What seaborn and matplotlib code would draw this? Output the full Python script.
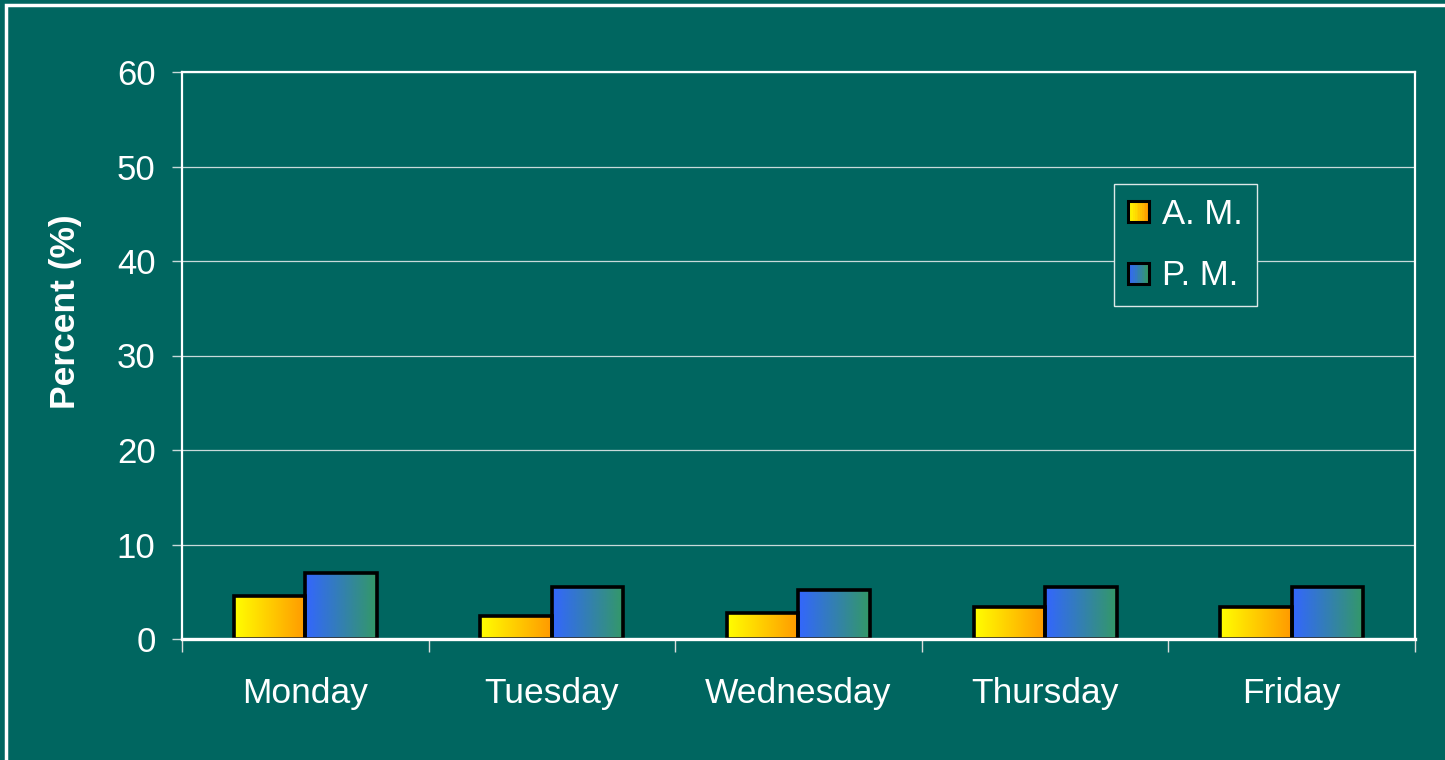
import numpy as np
import pandas as pd
import matplotlib
matplotlib.use("Agg")
import matplotlib.pyplot as plt
import seaborn as sns
from matplotlib.colors import LinearSegmentedColormap
from matplotlib.patches import Rectangle
from matplotlib.legend_handler import HandlerBase

# ---- data ----
days = ["Monday", "Tuesday", "Wednesday", "Thursday", "Friday"]
am_values = [4.5, 2.4, 2.7, 3.4, 3.4]
pm_values = [7.0, 5.5, 5.2, 5.5, 5.5]
series_names = ["A. M.", "P. M."]
y_ticks = [0, 10, 20, 30, 40, 50, 60]

BG = "#006660"
grad_colors = {
    "A. M.": ("#FFFF00", "#FF9900"),
    "P. M.": ("#3366FF", "#339966"),
}

df = pd.DataFrame({
    "day": days * 2,
    "value": am_values + pm_values,
    "period": [series_names[0]] * len(days) + [series_names[1]] * len(days),
})

sns.set_theme(style="white")
plt.rcParams["font.family"] = ["Liberation Sans", "DejaVu Sans"]

fig = plt.figure(figsize=(14.45, 7.6), dpi=100, facecolor=BG)
ax = fig.add_axes([182 / 1445, 121 / 760, (1415 - 182) / 1445, (639 - 72) / 760])
ax.set_facecolor(BG)

sns.barplot(data=df, x="day", y="value", hue="period", hue_order=series_names,
            order=days, width=0.58, gap=0, legend=False, ax=ax,
            edgecolor="black", linewidth=2.6, saturation=1)

ax.set_axisbelow(True)

# gradient fills clipped to each bar
for container, name in zip(ax.containers, series_names):
    cmap = LinearSegmentedColormap.from_list(name, grad_colors[name])
    grad = np.linspace(0, 1, 256).reshape(1, -1)
    for patch in container.patches:
        x0 = patch.get_x()
        w = patch.get_width()
        h = patch.get_height()
        y0 = patch.get_y()
        im = ax.imshow(grad, extent=[x0, x0 + w, y0, y0 + h], aspect="auto",
                       cmap=cmap, zorder=patch.get_zorder() - 0.01, interpolation="bilinear")
        im.set_clip_path(patch)
        patch.set_facecolor("none")

ax.set_xlim(-0.5, len(days) - 0.5)
ax.set_ylim(0, 60)
ax.set_yticks(y_ticks)
ax.set_yticklabels([str(t) for t in y_ticks])

# grid
ax.yaxis.grid(True, color="#c8dada", linewidth=0.9)
ax.xaxis.grid(False)

# spines
for s in ["left", "top", "right"]:
    ax.spines[s].set_visible(True)
    ax.spines[s].set_color("white")
    ax.spines[s].set_linewidth(1.6)
ax.spines["bottom"].set_color("white")
ax.spines["bottom"].set_linewidth(2.4)

# ticks
ax.tick_params(axis="y", colors="white", labelsize=25, length=7, width=1,
               direction="out", left=True, pad=12)
ax.tick_params(axis="y", color="#c8dada")
ax.tick_params(axis="x", which="major", length=0, colors="white", labelsize=25.5, pad=27)
ax.set_xticks(np.arange(-0.5, len(days), 1.0), minor=True)
ax.tick_params(axis="x", which="minor", length=9, width=1, color="#dddddd",
               direction="out", bottom=True)

ax.set_xlabel("")
ax.set_ylabel("Percent (%)", color="white", fontsize=25.5, fontweight="bold")
ax.yaxis.set_label_coords((82 - 182) / 1233, (639 - 311.5) / 567)


# legend with gradient squares
class GradHandler(HandlerBase):
    def __init__(self, colors):
        super().__init__()
        self.colors = colors

    def create_artists(self, legend, orig_handle, xdescent, ydescent, width,
                       height, fontsize, trans):
        cmap = LinearSegmentedColormap.from_list("h", self.colors)
        n = 12
        arts = []
        side = min(width, height)
        x0 = -xdescent
        y0 = -ydescent + (height - side) / 2
        for i in range(n):
            r = Rectangle((x0 + side * i / n, y0), side / n + 0.3, side,
                          facecolor=cmap(i / (n - 1)), edgecolor="none",
                          transform=trans)
            arts.append(r)
        arts.append(Rectangle((x0, y0), side, side, facecolor="none",
                              edgecolor="black", linewidth=2.2, transform=trans))
        return arts


handles = [Rectangle((0, 0), 1, 1) for _ in series_names]
handler_map = {h: GradHandler(grad_colors[n]) for h, n in zip(handles, series_names)}
leg = ax.legend(handles, series_names, handler_map=handler_map,
                loc="upper left", bbox_to_anchor=((1114 - 182) / 1233, (639 - 184) / 567),
                borderaxespad=0, fontsize=25, frameon=True, fancybox=False,
                handlelength=0.6, handleheight=0.6, handletextpad=0.38,
                labelspacing=0.82, borderpad=0.4, labelcolor="white")
leg.get_frame().set_facecolor(BG)
leg.get_frame().set_edgecolor("#dde8e8")
leg.get_frame().set_linewidth(1.0)
leg.get_frame().set_alpha(1)

# outer slide frame
fig.patches.append(Rectangle((6 / 1445, -0.1), 1.2, 1.1 - 5 / 760,
                             transform=fig.transFigure, fill=False,
                             edgecolor="white", linewidth=2.5))

fig.savefig("out.png", dpi=100, facecolor=BG)
